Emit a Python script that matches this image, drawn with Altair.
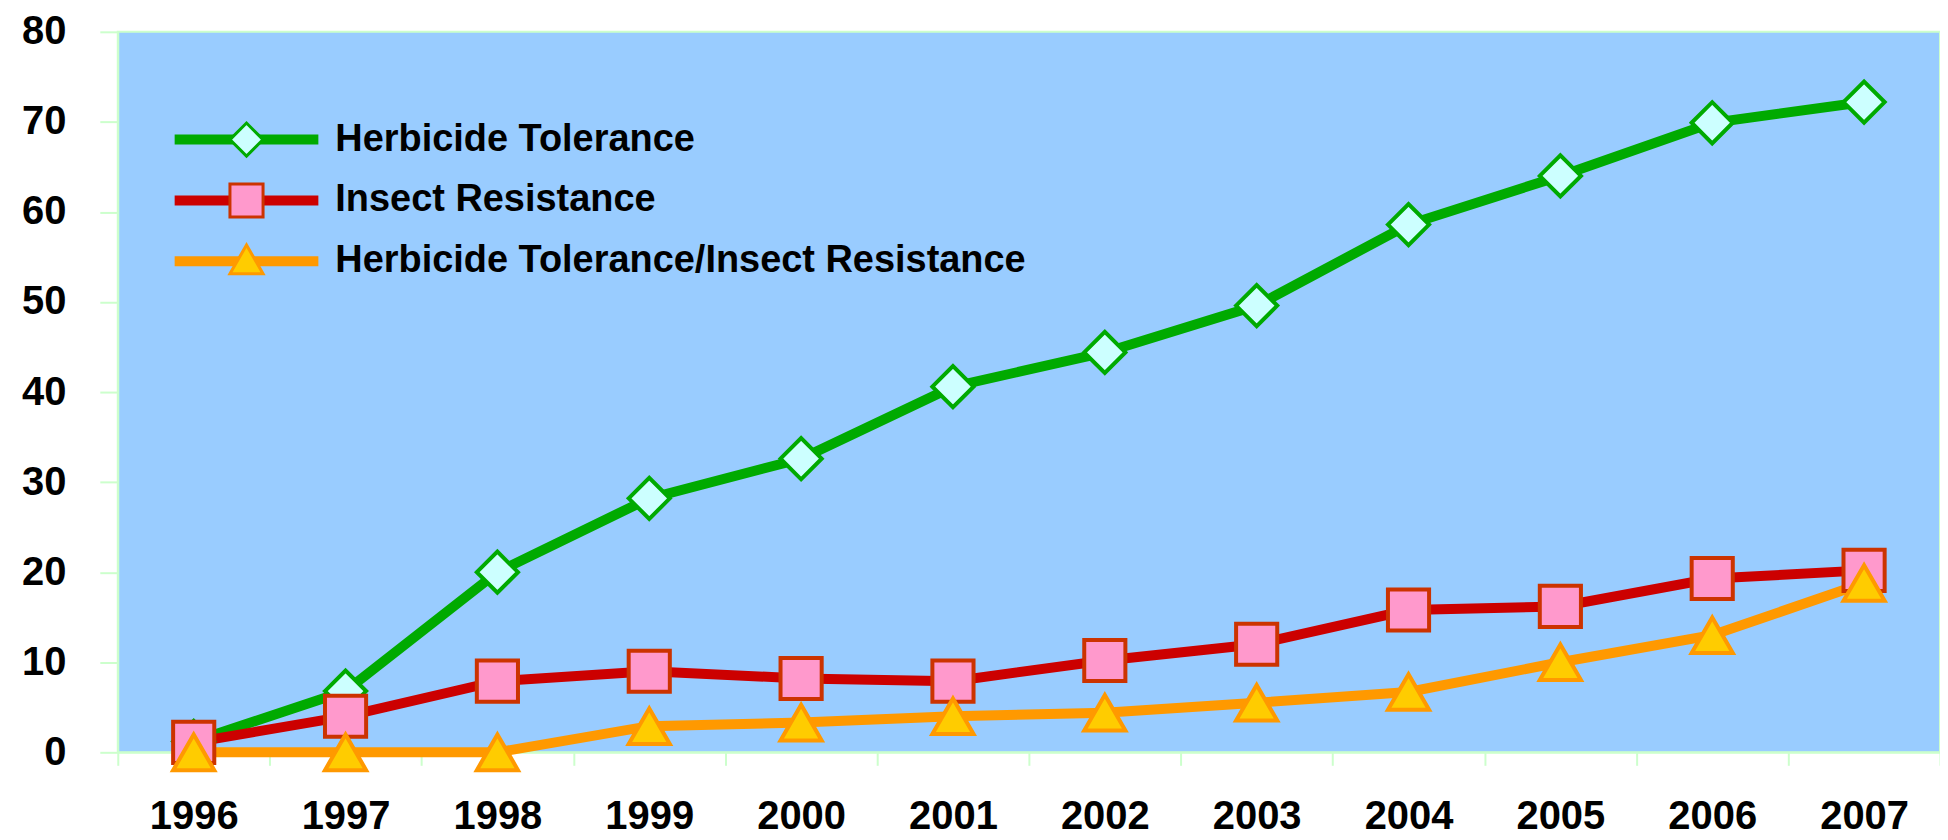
import altair as alt
import pandas as pd

years = [str(y) for y in range(1996, 2008)]
series_names = [
    "Herbicide Tolerance",
    "Insect Resistance",
    "Herbicide Tolerance/Insect Resistance",
]
herbicide_tolerance = [1.2, 6.8, 20.0, 28.2, 32.6, 40.6, 44.4, 49.6, 58.6, 64.0, 69.9, 72.2]
insect_resistance = [1.1, 4.0, 7.9, 9.0, 8.2, 7.9, 10.2, 12.0, 15.8, 16.2, 19.3, 20.2]
ht_ir = [0.0, 0.0, 0.0, 2.9, 3.3, 4.0, 4.4, 5.5, 6.7, 10.0, 13.0, 18.8]

line_colors = ["#00aa00", "#cc0000", "#ff9900"]
marker_fills = ["#ccffff", "#ff99cc", "#ffcc00"]
marker_strokes = ["#00aa00", "#cc3300", "#ff9900"]
marker_shapes = ["diamond", "square", "triangle-up"]

rows = []
for name, vals in zip(series_names, [herbicide_tolerance, insect_resistance, ht_ir]):
    for yr, v in zip(years, vals):
        rows.append({"year": yr, "value": v, "series": name})
df = pd.DataFrame(rows)

FONT = "Liberation Sans"
GRN = "#ccffcc"

x_enc = alt.X(
    "year:O",
    bandPosition=0.5,
    scale=alt.Scale(type="band", paddingInner=0, paddingOuter=0),
    axis=alt.Axis(
        title=None, tickBand="extent", labelAngle=0, labelFont=FONT,
        labelFontSize=40, labelFontWeight="bold", labelColor="black",
        labelPadding=31, tickSize=13, tickColor=GRN, tickWidth=2,
        domainColor=GRN, domainWidth=2, grid=False,
    ),
)
y_enc = alt.Y(
    "value:Q",
    scale=alt.Scale(domain=[0, 80], nice=False),
    axis=alt.Axis(
        title=None, values=list(range(0, 81, 10)), labelFont=FONT,
        labelFontSize=40, labelFontWeight="bold", labelColor="black",
        labelPadding=34, tickSize=18, tickColor=GRN, tickWidth=2,
        domainColor=GRN, domainWidth=2, grid=False,
    ),
)

common_leg = dict(
    title=None, orient="none", legendX=0, legendY=89, padding=0,
    labelFont=FONT, labelFontSize=38, labelFontWeight="bold",
    labelColor="black", labelLimit=2000,
)

line_legend = alt.Legend(
    symbolType="M-6,0H6", symbolSize=576, symbolStrokeWidth=10,
    symbolOffset=110, labelOffset=70, rowPadding=21, **common_leg,
)
point_legend = alt.Legend(
    symbolSize=1100, symbolStrokeWidth=3, symbolOffset=110,
    symbolOpacity=1, labelExpr="''", labelOffset=70, rowPadding=15, **common_leg,
)

lines = alt.Chart(df).mark_line(strokeWidth=10).encode(
    x=x_enc,
    y=y_enc,
    color=alt.Color(
        "series:N",
        sort=series_names,
        scale=alt.Scale(range=line_colors),
        legend=line_legend,
    ),
)

points = alt.Chart(df).mark_point(filled=True, strokeWidth=4, opacity=1, size=1700).encode(
    x=x_enc,
    y=y_enc,
    shape=alt.Shape("series:N", scale=alt.Scale(domain=series_names, range=marker_shapes), legend=point_legend),
    fill=alt.Fill("series:N", scale=alt.Scale(domain=series_names, range=marker_fills), legend=point_legend),
    stroke=alt.Stroke("series:N", scale=alt.Scale(domain=series_names, range=marker_strokes), legend=point_legend),
)

chart = (
    alt.layer(lines, points)
    .properties(
        width=1826,
        height=722,
        autosize=alt.AutoSizeParams(type="none"),
        padding={"left": 110, "top": 23, "right": 0, "bottom": 87},
    )
    .configure_view(fill="#99ccff", stroke=GRN, strokeWidth=2)
)

chart.save("out.html", embed_options={"renderer": "svg", "actions": False})
